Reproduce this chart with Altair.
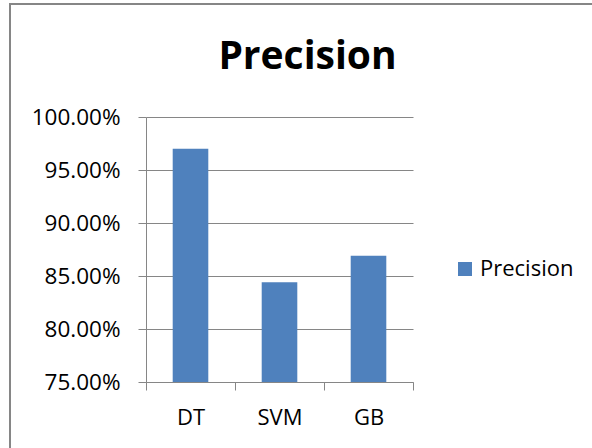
import altair as alt
import pandas as pd

categories = ["DT", "SVM", "GB"]
precision = [0.970, 0.844, 0.869]
series_name = "Precision"

df = pd.DataFrame({"model": categories, "value": precision, "series": [series_name] * 3})

FONT = "Open Sans"
GRID = "#868686"

bars = alt.Chart(df).mark_bar(width=alt.RelativeBandSize(0.4), clip=True).encode(
    x=alt.X("model:N", sort=categories, title=None,
            scale=alt.Scale(paddingInner=0, paddingOuter=0),
            axis=alt.Axis(labelAngle=0, tickBand="extent", tickSize=8, tickColor=GRID,
                          domainColor=GRID, labelFont=FONT, labelFontSize=22,
                          labelColor="#000000", labelPadding=17, grid=False)),
    y=alt.Y("value:Q", title=None,
            scale=alt.Scale(domain=[0.75, 1.0], zero=False, nice=False),
            axis=alt.Axis(format=".2%", values=[0.75, 0.80, 0.85, 0.90, 0.95, 1.0],
                          tickSize=8, tickColor=GRID, domainColor=GRID, gridColor=GRID,
                          gridOpacity=1, labelFont=FONT, labelFontSize=22.5,
                          labelColor="#000000", labelPadding=18)),
    color=alt.Color("series:N", title=None,
                    scale=alt.Scale(range=["#4F81BD"]),
                    legend=alt.Legend(orient="none", legendX=308, legendY=141,
                                      symbolType="square", symbolSize=196,
                                      symbolStrokeWidth=0, symbolOpacity=1,
                                      labelFont=FONT, labelFontSize=22,
                                      labelColor="#000000", padding=0)),
)

border = alt.Chart(df).mark_rect(fill=None, stroke=GRID, strokeWidth=2, clip=False).encode(
    x=alt.value(-136), x2=alt.value(460), y=alt.value(-113), y2=alt.value(345)
)

chart = alt.layer(border, bars).properties(
    width=267, height=265,
    title=alt.Title("Precision", font=FONT, fontSize=39, fontWeight="bold",
                    color="#000000", anchor="middle", dx=28, offset=-105,
                    baseline="alphabetic"),
    autosize=alt.AutoSizeParams(type="none"),
    padding={"left": 146, "top": 117, "right": 179, "bottom": 66},
    background="#ffffff",
).configure_view(stroke=None)

chart.save("out.html", embed_options={"renderer": "svg", "actions": False})
